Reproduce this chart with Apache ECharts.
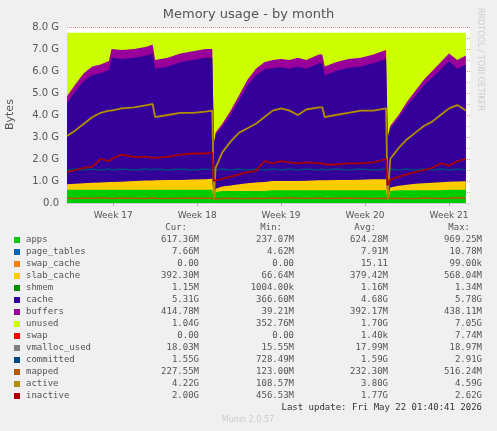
<!DOCTYPE html><html><head><meta charset="utf-8">
<script src="https://cdn.jsdelivr.net/npm/echarts@6/dist/echarts.min.js"></script>
<style>html,body{margin:0;background:#f0f0f0}#c{width:497px;height:431px}</style></head><body><div id="c"></div>
<script>
const weeks=[16.45,16.55,16.65,16.75,16.85,16.95,16.98,17.1,17.25,17.4,17.47,17.5,17.65,17.8,17.95,18.1,18.18,18.2,18.22,18.3,18.4,18.5,18.6,18.7,18.8,18.9,19.0,19.1,19.2,19.3,19.45,19.49,19.52,19.65,19.8,19.95,20.1,20.25,20.27,20.3,20.4,20.5,20.6,20.7,20.8,20.9,21.0,21.1,21.2];
const weekTicks=[17,18,19,20,21];
const apps=[0.6,0.6,0.6,0.6,0.6,0.6,0.6,0.6,0.6,0.6,0.6,0.6,0.6,0.6,0.6,0.6,0.6,0.1,0.5,0.55,0.55,0.55,0.55,0.55,0.55,0.58,0.58,0.58,0.58,0.58,0.58,0.58,0.58,0.58,0.58,0.58,0.58,0.58,0.1,0.55,0.58,0.58,0.58,0.58,0.58,0.58,0.6,0.6,0.6];
const slab=[0.25,0.28,0.3,0.32,0.33,0.35,0.35,0.37,0.4,0.42,0.42,0.43,0.44,0.45,0.47,0.48,0.5,0.05,0.15,0.2,0.25,0.3,0.35,0.38,0.4,0.42,0.42,0.42,0.42,0.43,0.45,0.45,0.45,0.46,0.47,0.48,0.5,0.5,0.05,0.15,0.2,0.25,0.3,0.32,0.34,0.36,0.37,0.38,0.39];
const buffers=[0.3,0.32,0.35,0.38,0.4,0.4,0.4,0.4,0.4,0.4,0.4,0.4,0.4,0.4,0.4,0.4,0.4,0.05,0.1,0.15,0.18,0.22,0.26,0.3,0.33,0.36,0.38,0.4,0.4,0.4,0.4,0.4,0.4,0.4,0.4,0.4,0.4,0.4,0.05,0.1,0.14,0.18,0.22,0.26,0.3,0.33,0.36,0.4,0.41];
const usedTop=[4.85,5.4,5.9,6.2,6.3,6.45,7.0,6.95,7.0,7.1,7.2,6.5,6.6,6.8,6.9,7.0,7.0,2.7,3.2,3.6,4.2,4.9,5.6,6.1,6.4,6.5,6.55,6.5,6.6,6.5,6.75,6.75,6.2,6.4,6.55,6.6,6.75,6.95,3.0,3.5,4.0,4.6,5.1,5.6,6.0,6.4,6.8,6.5,6.7];
const total=7.74;
const active=[3.05,3.3,3.6,3.9,4.1,4.2,4.2,4.3,4.35,4.45,4.5,3.9,4.0,4.1,4.1,4.15,4.2,0.2,1.6,2.3,2.8,3.2,3.4,3.6,3.9,4.2,4.3,4.2,4.0,4.25,4.35,4.35,3.9,4.0,4.1,4.2,4.2,4.3,0.2,2.0,2.5,2.9,3.2,3.5,3.7,4.0,4.3,4.45,4.2];
const inactive=[1.4,1.5,1.6,1.65,2.0,1.9,2.0,2.2,2.1,2.1,2.05,2.05,2.1,2.2,2.25,2.25,2.3,1.0,1.0,1.1,1.2,1.3,1.4,1.45,1.9,1.8,1.9,1.85,1.8,1.85,1.8,1.8,1.75,1.75,1.8,1.8,1.85,2.0,0.8,1.05,1.2,1.3,1.4,1.5,1.6,1.8,1.7,1.9,2.0];
const committed=weeks.map((w,i)=>[w,[1.5,1.55][i%2]]);
const mapped=[0.22,0.2,0.23,0.22,0.24,0.22,0.2,0.23,0.22,0.21,0.24,0.22,0.2,0.22,0.23,0.22,0.22,0.15,0.18,0.2,0.22,0.2,0.21,0.22,0.2,0.23,0.22,0.24,0.22,0.2,0.23,0.22,0.21,0.22,0.23,0.22,0.2,0.22,0.15,0.2,0.22,0.21,0.2,0.23,0.22,0.21,0.22,0.24,0.23];
const legendRows=[["apps","#00cc00","617.36M","237.07M","624.28M","969.25M"],["page_tables","#0066b3","7.66M","4.62M","7.91M","10.78M"],["swap_cache","#ff8000","0.00","0.00","15.11","99.00k"],["slab_cache","#ffcc00","392.30M","66.64M","379.42M","568.04M"],["shmem","#008f00","1.15M","1004.00k","1.16M","1.34M"],["cache","#330099","5.31G","366.60M","4.68G","5.78G"],["buffers","#990099","414.78M","39.21M","392.17M","438.11M"],["unused","#ccff00","1.04G","352.76M","1.70G","7.05G"],["swap","#ff0000","0.00","0.00","1.40k","7.74M"],["vmalloc_used","#808080","18.03M","15.55M","17.99M","18.97M"],["committed","#00487d","1.55G","728.49M","1.59G","2.91G"],["mapped","#b35a00","227.55M","123.00M","232.30M","516.24M"],["active","#b38f00","4.22G","108.57M","3.80G","4.59G"],["inactive","#a90000","2.00G","456.53M","1.77G","2.62G"]];

const pair=a=>weeks.map((w,i)=>[w,a[i]]);
const appsTop=apps, slabTop=apps.map((v,i)=>v+slab[i]);
const cacheTop=usedTop.map((v,i)=>v-buffers[i]);
function area(name,data,color,z){return {name,type:'line',data:pair(data),symbol:'none',lineStyle:{width:0},areaStyle:{color,opacity:1},itemStyle:{color},z,silent:true,animation:false};}
function line(name,data,color,w){return {name,type:'line',data,symbol:'none',lineStyle:{width:w||1.5,color},z:10,animation:false};}
const series=[
 area('unused',weeks.map(()=>total),'#ccff00',1),
 area('buffers',usedTop,'#990099',2),
 area('cache',cacheTop,'#330099',3),
 area('slab_cache',slabTop,'#ffcc00',4),
 area('apps',appsTop,'#00cc00',5),
 line('committed',committed,'#00487d',1.5),
 line('mapped',pair(mapped),'#b35a00',1.5),
 line('active',pair(active),'#b38f00',1.8),
 line('inactive',pair(inactive),'#a90000',1.8)
];
const mono='DejaVu Sans Mono', gray='#555';
const g=[
 {type:'text',left:'center',top:8,style:{text:'Memory usage - by month',font:'13px DejaVu Sans',fill:'#555'}},
 {type:'text',x:5,y:130,rotation:Math.PI/2,style:{text:'Bytes',font:'11px DejaVu Sans',fill:'#555'}},
 {type:'text',x:484,y:8,rotation:-Math.PI/2,style:{text:'RRDTOOL / TOBI OETIKER',font:'8px DejaVu Sans',fill:'#ccc'}},
];
const cols=[199,294,388,482];
['Cur:','Min:','Avg:','Max:'].forEach((h,j)=>g.push({type:'text',x:cols[j]-12,y:223,style:{text:h,font:'9px '+mono,fill:gray,align:'right'}}));
legendRows.forEach((r,i)=>{const y=235+i*12;
 g.push({type:'rect',shape:{x:14,y:y+2,width:6,height:6},style:{fill:r[1]}});
 g.push({type:'text',x:26,y:y,style:{text:r[0],font:'9px '+mono,fill:gray}});
 for(let j=0;j<4;j++)g.push({type:'text',x:cols[j],y:y,style:{text:r[j+2],font:'9px '+mono,fill:gray,align:'right'}});
});
g.push({type:'text',x:482,y:403,style:{text:'Last update: Fri May 22 01:40:41 2026',font:'9px '+mono,fill:'#333',align:'right'}});
g.push({type:'text',x:248,y:416,style:{text:'Munin 2.0.57',font:'8px DejaVu Sans',fill:'#ccc',align:'center'}});
const ch=echarts.init(document.getElementById('c'));
ch.setOption({backgroundColor:'#f0f0f0',animation:false,
 grid:{left:67,right:27,top:27,bottom:228,containLabel:false,show:true,backgroundColor:'#fff',borderWidth:0},
 xAxis:{type:'value',min:16.45,max:21.25,axisLine:{lineStyle:{color:'#ccd'}},
  axisTick:{customValues:weekTicks,length:3,lineStyle:{color:'#aaa'}},
  axisLabel:{customValues:weekTicks,formatter:v=>'Week '+Math.round(v),color:'#555',fontSize:9,fontFamily:'DejaVu Sans'},
  splitLine:{show:false}},
 yAxis:{type:'value',min:0,max:8,interval:1,axisLine:{show:false},axisTick:{show:false},
  axisLabel:{formatter:v=>v===0?'0.0':v.toFixed(1)+' G',color:'#555',fontSize:10,fontFamily:'DejaVu Sans'},
  splitLine:{lineStyle:{color:'#e88',type:'dotted'}},minorTick:{show:false,splitNumber:2},
  minorSplitLine:{show:true,lineStyle:{color:'#bbb',type:'dotted'}}},
 series,graphic:g});
</script></body></html>
